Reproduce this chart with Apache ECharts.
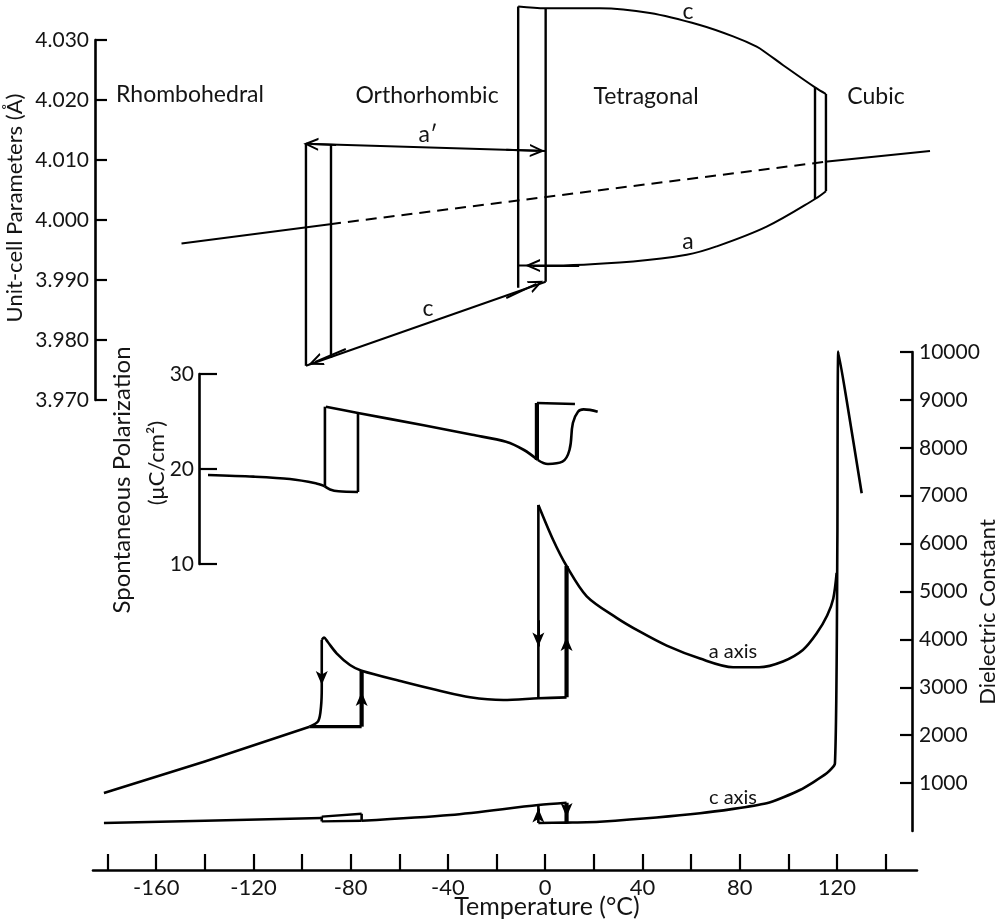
<!DOCTYPE html>
<html><head><meta charset="utf-8">
<script src="https://cdn.jsdelivr.net/npm/echarts@6/dist/echarts.min.js"></script>
<style>html,body{margin:0;padding:0;background:#fff}#c{width:1000px;height:921px}</style>
</head><body><div id="c"></div>
<script>
// ================= DATA =================
// Temperature axis (°C)
const tempTicks = [-180,-160,-140,-120,-100,-80,-60,-40,-20,0,20,40,60,80,100,120,140];
const tempLabels = [-160,-120,-80,-40,0,40,80,120];
const cellTicks = [3.970,3.980,3.990,4.000,4.010,4.020,4.030];
const polTicks = [10,20,30];
const dielTicks = [1000,2000,3000,4000,5000,6000,7000,8000,9000,10000];

// Unit-cell parameters (Å)
const cellRhombSolid = [[-149.6,3.9961],[-88.5,3.9993]];
const cellPseudoDashed = [[-88.5,3.9993],[115.1,4.0097]];
const cellCubicSolid = [[115.1,4.0097],[158.3,4.0115]];
const cellOrthoA = [[-98.4,4.0127],[0.2,4.0115]];
const cellOrthoC = [[-98.4,3.9757],[0.2,3.9897]];
const cellTetraC = [[-11.1,4.0356],[0.2,4.0353],[22.5,4.0353],[43.1,4.0345],[63.6,4.0325],[77.3,4.0306],[87.0,4.0289],[91.1,4.0278],[97.9,4.0258],[111.0,4.0221],[115.5,4.0210]];
const cellTetraA = [[-11.1,3.9924],[0.2,3.9924],[36.2,3.9931],[58.2,3.9942],[70.5,3.9956],[91.1,3.9989],[111.0,4.0035],[115.5,4.0048]];
// transition lines: [T, upper, lower]
const cellBounds = [[-98.4,4.0127,3.9757],[-88.1,4.0126,3.9770],[-11.1,4.0356,3.9887],[0.2,4.0353,3.9897],[111.0,4.0221,4.0035],[115.5,4.0210,4.0048]];
// arrows: [fromT, fromV, tipT, tipV]
const cellArrows = [[-86,4.0125,-96.4,4.01265],[-16,4.0117,-3.2,4.01155],[-82,3.9785,-94.6,3.97635],[-16,3.9870,-3.6,3.98935],[2,4.0353,-9.2,4.0355],[14,3.9924,-5.2,3.9924]];

// Spontaneous polarization (µC/cm²)
const polRhomb = [[-138.7,19.37],[-120,19.2],[-105,18.95],[-94.4,18.5],[-90.8,18.2]];
const polOrthoDip = [[-90.8,18.2],[-88.5,17.85],[-85,17.65],[-77,17.58]];
const polOrthoTop = [[-90.2,26.56],[-77,25.9],[-50,24.6],[-30,23.6],[-16.1,22.87],[-8.7,22.0],[-3.0,20.95]];
const polTetraU = [[-3.0,20.95],[1.15,20.53],[7.1,20.77],[10.0,22.0],[11.4,24.84],[13.5,26.03],[15.8,26.28],[21.6,26.03]];
const polSteps = [[-90.6,18.2,26.56],[-77,17.58,25.9]];
const polThick = [[-3.4,20.95,26.95]];
const polTetraTop = [[-3.4,26.95],[12.25,26.84]];

// Dielectric constant
const aRhomb = [[-181.5,793],[-140,1450],[-96.9,2178]];
const aRise = [[-96.9,2178],[-93.3,2300],[-92.2,2600],[-91.9,3000],[-91.9,3990]];
const aOrtho = [[-91.9,3990],[-91.0,4040],[-89.5,3950],[-85.8,3710],[-80.3,3466],[-75.5,3347],[-58.4,3117],[-44.6,2944],[-30.9,2792],[-17.2,2735],[-2.8,2770],[8.8,2790]];
const aLoopBottom = [[-96.9,2178],[-75.5,2178]];
const aTetra = [[-2.8,6807],[3.3,6076],[8.8,5533],[17.1,4900],[29.4,4450],[39,4160],[50,3870],[63.7,3600],[77.3,3420],[88,3420],[97.8,3540],[106,3780],[111.7,4128],[116,4500],[118.5,4850],[119.9,5387]];
const cRhomb = [[-181.5,167],[-140,215],[-91.9,270]];
const cOrtho = [[-75.5,215],[-39,334],[-2.8,543],[8.8,590]];
const cTetra = [[-2.8,167],[8.8,175],[22.5,192],[63.7,370],[91.1,578],[104.8,856],[115.8,1204],[119.2,1413],[120.2,6076],[120.6,10008],[124,8999],[130.2,7051]];
const cBoxTop = [[-91.9,300],[-75.5,360]];
const cBoxBottom = [[-91.9,200],[-75.5,215]];
// vertical steps [T, low, high, thick]
const dielSteps = [[-75.5,2178,3347,1],[-2.8,2770,6807,0],[8.8,2790,5533,1],[-91.9,200,300,0],[-75.5,215,360,0],[-2.8,167,543,0],[8.8,175,590,1]];
// arrows: [fromT, fromD, tipT, tipD]
const dielArrows = [[-91.9,3600,-91.9,3050],[-75.5,2400,-75.5,2900],[-2.8,4400,-2.8,3850],[8.8,3500,8.8,4050],[-2.8,250,-2.8,470],[8.8,500,8.8,290]];

// ================= LAYOUT =================
const PXDEG = 2.431, AX_LEFT_PX = 93, AX_MIN = -186;
const tAt = px => AX_MIN + (px - AX_LEFT_PX) / PXDEG;
const INK = '#000', TXT = '#141414', FONT = 'Lato';

const chart = echarts.init(document.getElementById('c'), null, {renderer:'canvas'});

function ln(g, data, o = {}) {
  return {type:'line', xAxisIndex:g, yAxisIndex:g, data, symbol:'none', showSymbol:false, clip:false,
    smooth:o.smooth || false, silent:true, animation:false, z:o.z || 3,
    lineStyle:{color:INK, width:o.w || 2, type:o.dash ? [11,7] : 'solid', cap:'butt', join:'miter'}};
}
const chevron = 'path://M5,0 L10,10 L8.4,10 L5,3.4 L1.6,10 L0,10 Z';
function arrows(g, list, sym, size) {
  return {type:'line', xAxisIndex:g, yAxisIndex:g, data:[], silent:true, animation:false,
    markLine:{silent:true, animation:false, symbol:['none', sym], symbolSize:size, label:{show:false},
      lineStyle:{color:INK, width:2, type:'solid'},
      data:list.map(a => [{coord:[a[0],a[1]]},{coord:[a[2],a[3]]}])}};
}

const series = [];
// unit cell (grid 1)
series.push(ln(1, cellRhombSolid, {w:2}));
series.push(ln(1, cellPseudoDashed, {w:2, dash:true}));
series.push(ln(1, cellCubicSolid, {w:2}));
series.push(ln(1, cellOrthoA, {w:2}));
series.push(ln(1, cellOrthoC, {w:2}));
series.push(ln(1, cellTetraC, {w:2, smooth:0.35}));
series.push(ln(1, cellTetraA, {w:2, smooth:0.35}));
cellBounds.forEach(b => series.push(ln(1, [[b[0],b[1]],[b[0],b[2]]], {w:2.4})));
series.push(arrows(1, cellArrows, chevron, [13,15]));
// polarization (grid 2)
series.push(ln(2, polRhomb, {w:2.6, smooth:0.3}));
series.push(ln(2, polOrthoDip, {w:2.6, smooth:0.3}));
series.push(ln(2, polOrthoTop, {w:2.6, smooth:0.3}));
series.push(ln(2, polTetraU, {w:2.6, smooth:0.4}));
series.push(ln(2, polTetraTop, {w:2.6}));
polSteps.forEach(s => series.push(ln(2, [[s[0],s[1]],[s[0],s[2]]], {w:2.6})));
polThick.forEach(s => series.push(ln(2, [[s[0],s[1]],[s[0],s[2]]], {w:4.2})));
// dielectric (grid 0)
series.push(ln(0, aRhomb, {w:2.6}));
series.push(ln(0, aRise, {w:2.6, smooth:0.3}));
series.push(ln(0, aOrtho, {w:2.6, smooth:0.3}));
series.push(ln(0, aLoopBottom, {w:3.4}));
series.push(ln(0, aTetra, {w:2.6, smooth:0.3}));
series.push(ln(0, cRhomb, {w:2.6}));
series.push(ln(0, cOrtho, {w:2.6, smooth:0.3}));
series.push(ln(0, cTetra, {w:2.6, smooth:0.2}));
series.push(ln(0, cBoxTop, {w:2.4}));
series.push(ln(0, cBoxBottom, {w:2.4}));
dielSteps.forEach(s => series.push(ln(0, [[s[0],s[1]],[s[0],s[2]]], {w:s[3] ? 4.2 : 2.6})));
series.push(arrows(0, dielArrows, 'arrow', [9,14]));

const lab = {fontFamily:FONT, fontSize:21, color:TXT};
const axLine = {show:true, onZero:false, lineStyle:{color:INK, width:2.6}};

const option = {
  backgroundColor:'#fff',
  animation:false,
  grid:[
    {left:93, right:1000-917, top:352, bottom:921-831, containLabel:false},
    {left:95, right:1000-945, top:40, height:360, containLabel:false},
    {left:199, right:1000-620, top:374, height:190, containLabel:false}
  ],
  xAxis:[
    {gridIndex:0, type:'value', min:tAt(93), max:tAt(917), position:'bottom', offset:39,
      axisLine:axLine, splitLine:{show:false},
      axisTick:{show:true, inside:true, length:16, lineStyle:{color:INK, width:2.2}, customValues:tempTicks},
      axisLabel:Object.assign({margin:7, customValues:tempLabels}, lab, {fontSize:22})},
    {gridIndex:1, type:'value', min:tAt(95), max:tAt(945), show:false},
    {gridIndex:2, type:'value', min:tAt(199), max:tAt(620), show:false}
  ],
  yAxis:[
    {gridIndex:0, type:'value', position:'right', offset:-5, min:0, max:10000, interval:1000,
      axisLine:axLine, splitLine:{show:false},
      axisTick:{show:true, inside:true, length:12, lineStyle:{color:INK, width:2.2}, customValues:dielTicks},
      axisLabel:Object.assign({margin:7, customValues:dielTicks, formatter:v => String(v)}, lab)},
    {gridIndex:1, type:'value', position:'left', min:3.970, max:4.030, interval:0.010,
      axisLine:axLine, splitLine:{show:false},
      axisTick:{show:true, inside:true, length:12, lineStyle:{color:INK, width:2.2}},
      axisLabel:Object.assign({margin:6, formatter:v => v.toFixed(3)}, lab)},
    {gridIndex:2, type:'value', position:'left', min:10, max:30, interval:10,
      axisLine:axLine, splitLine:{show:false},
      axisTick:{show:true, inside:true, length:18, lineStyle:{color:INK, width:2.2}},
      axisLabel:Object.assign({margin:5}, lab)}
  ],
  graphic:[
    {type:'text', x:15, y:208, rotation:Math.PI/2, style:{text:'Unit-cell Parameters (Å)', font:'22px Lato', fill:TXT, align:'center', verticalAlign:'middle'}},
    {type:'text', x:122, y:480, rotation:Math.PI/2, style:{text:'Spontaneous Polarization', font:'24px Lato', fill:TXT, align:'center', verticalAlign:'middle'}},
    {type:'text', x:157, y:463, rotation:Math.PI/2, style:{text:'(μC/cm²)', font:'22px Lato', fill:TXT, align:'center', verticalAlign:'middle'}},
    {type:'text', x:988, y:612, rotation:Math.PI/2, style:{text:'Dielectric Constant', font:'22px Lato', fill:TXT, align:'center', verticalAlign:'middle'}},
    {type:'text', x:547, y:907, style:{text:'Temperature (°C)', font:'25px Lato', fill:TXT, align:'center', verticalAlign:'middle'}},
    {type:'text', x:190, y:95, style:{text:'Rhombohedral', font:'23px Lato', fill:TXT, align:'center', verticalAlign:'middle'}},
    {type:'text', x:427, y:96, style:{text:'Orthorhombic', font:'23px Lato', fill:TXT, align:'center', verticalAlign:'middle'}},
    {type:'text', x:646, y:97, style:{text:'Tetragonal', font:'23px Lato', fill:TXT, align:'center', verticalAlign:'middle'}},
    {type:'text', x:876, y:97, style:{text:'Cubic', font:'23px Lato', fill:TXT, align:'center', verticalAlign:'middle'}},
    {type:'text', x:428, y:135, style:{text:'a′', font:'23px Lato', fill:TXT, align:'center', verticalAlign:'middle'}},
    {type:'text', x:428, y:309, style:{text:'c', font:'23px Lato', fill:TXT, align:'center', verticalAlign:'middle'}},
    {type:'text', x:688, y:12, style:{text:'c', font:'23px Lato', fill:TXT, align:'center', verticalAlign:'middle'}},
    {type:'text', x:688, y:242, style:{text:'a', font:'23px Lato', fill:TXT, align:'center', verticalAlign:'middle'}},
    {type:'text', x:733, y:652, style:{text:'a axis', font:'20px Lato', fill:TXT, align:'center', verticalAlign:'middle'}},
    {type:'text', x:733, y:798, style:{text:'c axis', font:'20px Lato', fill:TXT, align:'center', verticalAlign:'middle'}}
  ],
  series
};
chart.setOption(option);
</script></body></html>
